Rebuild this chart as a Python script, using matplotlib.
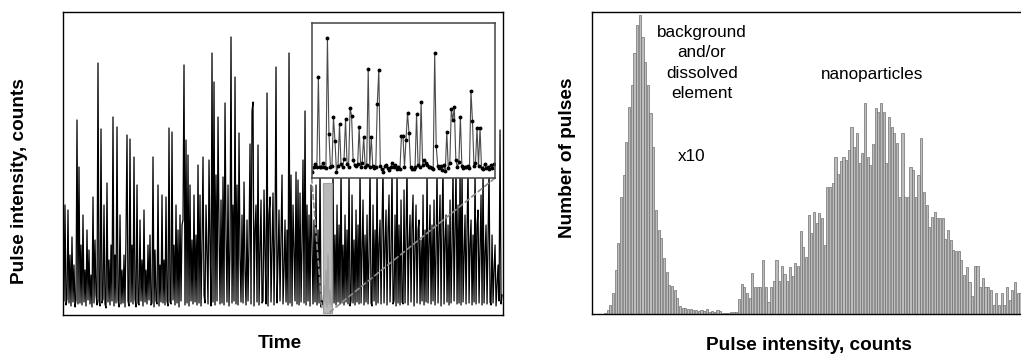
import matplotlib.pyplot as plt
from matplotlib.patches import Rectangle, ConnectionPatch
import numpy as np

plt.rcParams['font.family'] = ['Liberation Sans', 'DejaVu Sans']

# time trace (pulse intensity per reading, arbitrary units)
trace = [
    115, 14, 110, 10, 16, 105, 12, 60, 9, 78, 13, 50, 8, 15, 195, 11, 148, 12, 70, 10,
    100, 13, 45, 9, 85, 15, 65, 11, 40, 8, 118, 12, 75, 20, 10, 252, 14, 9, 186, 12,
    16, 110, 11, 7, 132, 13, 55, 10, 70, 14, 198, 9, 60, 12, 188, 15, 8, 100, 11, 45,
    12, 60, 8, 80, 180, 14, 9, 176, 13, 70, 11, 158, 16, 8, 130, 12, 10, 95, 14, 55,
    9, 105, 13, 45, 11, 70, 15, 80, 10, 12, 158, 8, 65, 14, 11, 130, 9, 50, 13, 120,
    12, 55, 10, 118, 14, 9, 187, 13, 11, 183, 15, 70, 10, 110, 12, 85, 8, 100, 14, 90,
    95, 250, 10, 175, 12, 160, 9, 130, 14, 75, 11, 120, 13, 80, 10, 150, 12, 120, 9, 70,
    158, 20, 12, 110, 60, 11, 155, 70, 9, 262, 13, 233, 10, 140, 14, 198, 85, 11, 115, 12,
    138, 10, 212, 80, 13, 130, 9, 65, 278, 12, 110, 14, 238, 11, 130, 10, 182, 60, 13, 100,
    12, 133, 45, 10, 95, 14, 70, 171, 11, 204, 213, 9, 85, 110, 13, 170, 10, 60, 115, 12,
    14, 125, 60, 11, 222, 9, 100, 118, 13, 70, 122, 10, 80, 248, 12, 55, 105, 14, 75, 140,
    11, 45, 95, 13, 85, 10, 262, 12, 140, 9, 110, 65, 14, 143, 11, 135, 10, 122, 13, 70,
    155, 12, 204, 10, 110, 14, 100, 9, 130, 70, 11, 95, 13, 130, 10, 85, 12, 150, 8, 14,
    10, 30, 12, 45, 8, 60, 11, 25, 9, 14, 150, 12, 80, 10, 110, 13, 90, 11, 150, 12,
    70, 10, 100, 13, 85, 11, 150, 9, 14, 120, 12, 75, 10, 105, 13, 90, 11, 150, 12, 65,
    115, 10, 80, 13, 100, 11, 60, 150, 12, 9, 110, 14, 85, 10, 150, 12, 70, 95, 11, 90,
    150, 12, 70, 105, 10, 85, 120, 13, 60, 150, 11, 14, 100, 9, 150, 12, 90, 10, 115, 13,
    11, 125, 12, 80, 150, 10, 70, 100, 13, 90, 120, 9, 65, 110, 12, 85, 95, 11, 75, 14,
    120, 10, 85, 13, 150, 12, 70, 110, 11, 90, 14, 115, 10, 60, 150, 12, 80, 120, 9, 95,
    150, 11, 75, 100, 13, 90, 10, 115, 12, 70, 150, 14, 85, 150, 11, 110, 12, 150, 10, 150,
    13, 60, 100, 11, 85, 150, 12, 70, 95, 10, 80, 13, 150, 11, 90, 105, 12, 65, 120, 10,
    150, 12, 60, 90, 11, 75, 150, 13, 10, 80, 12, 45, 70, 9, 30, 50, 14, 185, 11, 20,
]

# zoomed segment shown in the inset
zoom_trace = [
    6, 11, 14, 11, 101, 11, 11, 15, 11, 10, 140, 44, 11, 12, 61, 37, 6, 12, 54, 14,
    11, 19, 59, 14, 11, 70, 62, 18, 13, 12, 14, 51, 11, 15, 41, 11, 13, 109, 11, 41,
    12, 10, 11, 74, 108, 12, 9, 6, 12, 13, 10, 8, 11, 15, 11, 13, 9, 11, 9,
    42, 42, 11, 38, 65, 45, 11, 9, 9, 11, 64, 13, 11, 76, 13, 18, 15, 13, 11, 11,
    10, 9, 125, 32, 12, 10, 12, 8, 13, 7, 46, 10, 15, 69, 58, 71, 18, 11, 16, 61,
    12, 10, 11, 11, 12, 10, 87, 57, 12, 15, 50, 12, 50, 10, 9, 14, 10, 11, 9, 13,
    10, 14,
]

# histogram of pulse intensities (number of pulses per bin)
counts = [
    1, 4, 9, 21, 44, 71, 117, 139, 172, 207, 229, 261, 289, 299, 277, 252, 229, 201, 167, 104,
    84, 76, 56, 42, 29, 28, 24, 16, 8, 6, 6, 5, 5, 4, 4, 3, 4, 3, 5, 2,
    3, 2, 4, 3, 1, 1, 1, 2, 2, 2, 15,
    30, 27, 21, 16, 41, 27, 27, 27, 54, 27, 12, 27, 33, 54, 33, 48, 40, 33, 47, 38,
    51, 48, 83, 67, 57, 99, 81, 102, 91, 101, 96, 69, 127, 127, 131, 157, 140, 153, 157, 154,
    164, 187, 167, 181, 151, 161, 211, 157, 149, 170, 206, 202, 211, 202, 151, 197, 187, 181, 171, 117,
    181, 117, 117, 147, 144, 117, 139, 176, 122, 109, 87, 97, 102, 96, 96, 96, 75, 84, 74, 64,
    63, 63, 54, 39, 47, 32, 18, 48, 48, 27, 36, 27, 27, 24, 9, 21, 9, 21, 9, 27,
    14, 24, 32, 21, 21,
]

fig = plt.figure(figsize=(10.21, 3.55), dpi=100)

# left panel: time trace
ax1 = fig.add_axes([0.0617, 0.1127, 0.4310, 0.8527])
ax1.plot(np.arange(len(trace)), trace, color='black', lw=0.9)
ax1.set_xlim(0, 440)
ax1.set_ylim(0, 302.7)
ax1.set_xticks([])
ax1.set_yticks([])
for s in ax1.spines.values():
    s.set_linewidth(1.0)

# highlighted segment
hl_x0, hl_x1, hl_top = 260, 269, 132
ax1.add_patch(Rectangle((hl_x0, 2), hl_x1 - hl_x0, hl_top - 2, facecolor='#b3b3b3',
                        edgecolor='#9a9a9a', lw=0.8, alpha=0.9, zorder=3))

# inset
axi = fig.add_axes([0.3053, 0.4986, 0.1795, 0.4358], zorder=5)
axi.set_facecolor('white')
axi.plot(np.arange(len(zoom_trace)), zoom_trace, color='#4a4a4a', lw=0.8,
         marker='o', ms=1.8, mfc='black', mec='black')
axi.set_xlim(-0.4, len(zoom_trace) - 0.1)
axi.set_ylim(0, 154.7)
axi.set_xticks([])
axi.set_yticks([])
for s in axi.spines.values():
    s.set_color('#444444')
    s.set_linewidth(1.1)

for xa, xb in [((0, 0), (hl_x0 - 1, 5)), ((1, 0), (hl_x1 - 2, 3))]:
    con = ConnectionPatch(xyA=xa, coordsA=axi.transAxes, xyB=xb, coordsB=ax1.transData,
                          color='#8c8c8c', lw=1.2, linestyle=(0, (3, 2)), zorder=4)
    fig.add_artist(con)

fig.text(20 / 1021, 1 - 181 / 355, 'Pulse intensity, counts', rotation=90,
         ha='center', va='center', fontsize=13.7, fontweight='bold')
fig.text(280 / 1021, 1 - 343 / 355, 'Time', ha='center', va='center',
         fontsize=13.7, fontweight='bold')

# right panel: histogram
ax2 = fig.add_axes([0.5798, 0.1155, 0.4251, 0.8507])
ax2.bar(np.arange(len(counts)), counts, width=0.8, color='#bdbdbd',
        edgecolor='#6f6f6f', lw=0.5)
ax2.set_xlim(-4.85, 157.1)
ax2.set_ylim(0, 302)
ax2.set_xticks([])
ax2.set_yticks([])
for s in ax2.spines.values():
    s.set_linewidth(1.0)

fig.text(567 / 1021, 1 - 158 / 355, 'Number of pulses', rotation=90,
         ha='center', va='center', fontsize=13.7, fontweight='bold')
fig.text(809 / 1021, 1 - 346 / 355, 'Pulse intensity, counts', ha='center',
         va='center', fontsize=13.7, fontweight='bold')
fig.text(702 / 1021, 1 - 63 / 355, 'background\nand/or\ndissolved\nelement',
         ha='center', va='center', multialignment='center', fontsize=12.3,
         linespacing=1.45)
fig.text(692 / 1021, 1 - 156 / 355, 'x10', ha='center', va='center', fontsize=12.3)
fig.text(872 / 1021, 1 - 75 / 355, 'nanoparticles', ha='center', va='center',
         fontsize=12.3)

fig.savefig('out.png', dpi=100)
